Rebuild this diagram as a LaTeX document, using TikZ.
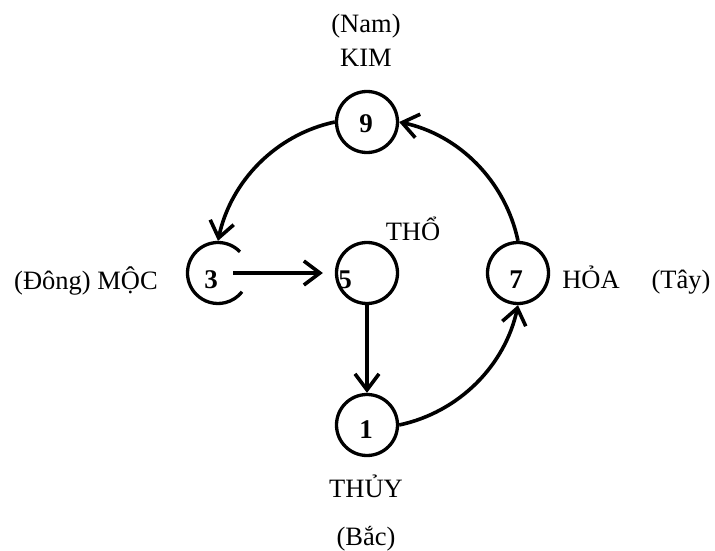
\documentclass[tikz,border=0pt]{standalone}
\usepackage{fontspec}
\setmainfont{Liberation Serif}
\usetikzlibrary{arrows.meta}
\begin{document}
\begin{tikzpicture}[x=1pt,y=1pt,
  circ/.style={circle,draw,line width=3.3pt,minimum size=61pt,inner sep=0pt},
  hollow/.style={circle,minimum size=61pt,inner sep=0pt,outer sep=1.65pt},
  partial/.style={line width=3.3pt},
  num/.style={anchor=base,inner sep=0pt,font=\fontsize{27}{30}\selectfont\bfseries},
  lbl/.style={anchor=base,inner sep=0pt,font=\fontsize{26.5}{30}\selectfont},
  arr/.style={line width=3.6pt,-{Straight Barb[length=16pt,width=24pt]}},
  lk/.style={arr,looseness=0.93}]
\useasboundingbox (0,0) rectangle (715,550);
% circles
\node[circ] (c9) at (367,428) {};
\node[circ] (c5) at (367,277) {};
\node[circ] (c7) at (518,277) {};
\node[circ] (c1) at (367,125) {};
\node[hollow] (c3) at (218,277) {};
\draw[partial] ([shift={(44:30.5)}]c3.center) arc[start angle=44,end angle=322,radius=30.5];
% numbers
\node[num] (n9) at (366,417) {9};
\node[num] (n3) at (211,262) {3};
\node[num] (n5) at (345,262) {5};
\node[num] (n7) at (516,262) {7};
\node[num] (n1) at (366,112) {1};
% labels
\node[lbl] (nam) at (366,517) {(Nam)};
\node[lbl] (kim) at (366,483) {KIM};
\node[lbl] (tho) at (413,310) {THỔ};
\node[lbl] (moc) at (86,261) {(Đông) MỘC};
\node[lbl] (hoa) at (591,262) {HỎA};
\node[lbl] (tay) at (681,262) {(Tây)};
\node[lbl] (thuy) at (366,53) {THỦY};
\node[lbl] (bac) at (366,5) {(Bắc)};
% connectors
\draw[lk] (c9.west) to[out=192,in=78] (c3.north);
\draw[lk] (c7.north) to[out=102,in=-12] (c9.east);
\draw[lk] (c1.east) to[out=12,in=258] (c7.south);
\draw[arr] ([xshift=15pt]c3.center) -- ([xshift=-12pt]c5.west);
\draw[arr] (c5.south) -- (c1.north);
\end{tikzpicture}
\end{document}
